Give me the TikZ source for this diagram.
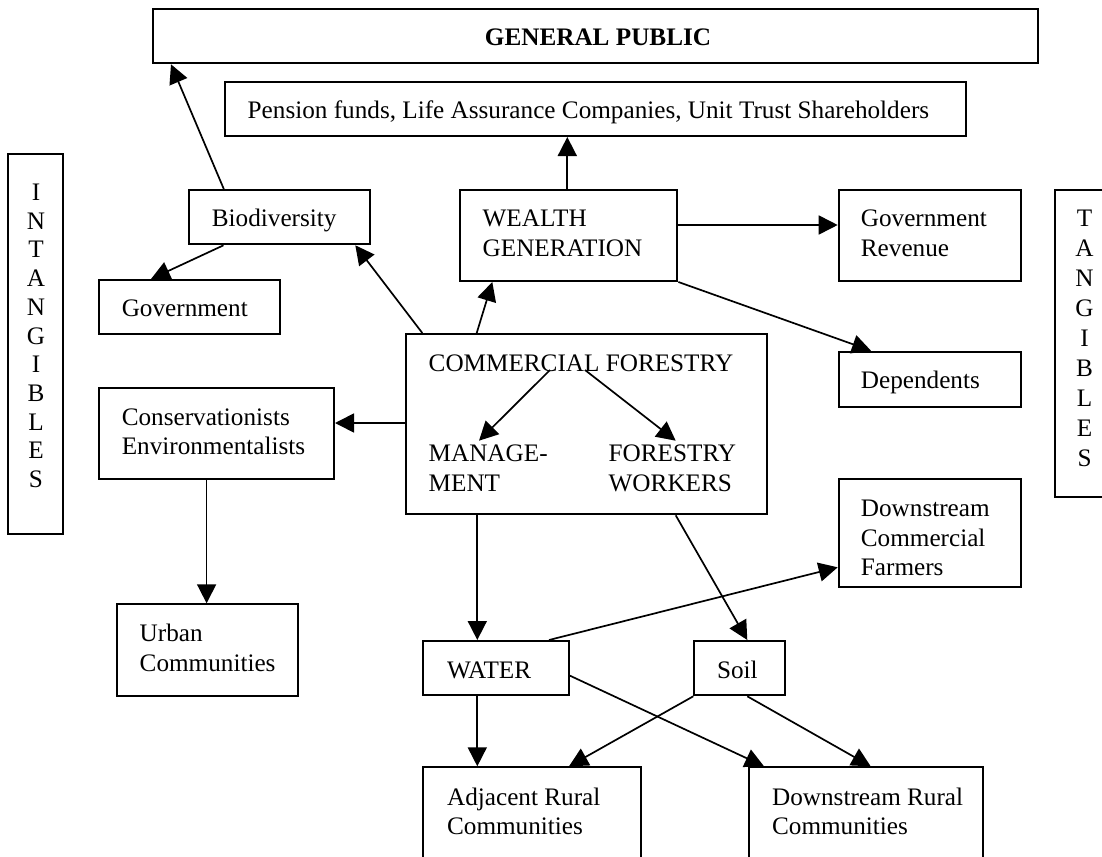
\documentclass[tikz,border=0pt]{standalone}
\usepackage{fontspec}
\setmainfont{Liberation Serif}
\usetikzlibrary{arrows.meta,fit,calc}
\newcommand\diafont{\fontsize{12.6}{14.75}\selectfont}
\begin{document}
\begin{tikzpicture}[x=0.5pt,y=-0.5pt,
  box/.style={draw, line width=1pt, inner sep=0pt},
  txt/.style={anchor=base west, inner sep=0pt, align=left, font=\diafont},
  arr/.style={line width=0.85pt, -{Triangle[length=9.5pt,width=9.5pt]}},
]
\useasboundingbox (0,0) rectangle (1102,856);
\clip (0,0) rectangle (1102,856);

% boxes
\node[box, fit={(152.6,9.3) (1038.3,63.3)}] (gp) {};
\node[box, fit={(225.2,81.7) (966,136)}] (pension) {};
\node[box, fit={(8.2,153.5) (63.4,534)}] (intang) {};
\node[box, fit={(1055,190) (1115,496.7)}] (tang) {};
\node[box, fit={(188.7,190) (370,244.3)}] (bio) {};
\node[box, fit={(459.5,190) (677.4,281)}] (wealth) {};
\node[box, fit={(838.7,190) (1020.7,281)}] (govrev) {};
\node[box, fit={(98.6,280) (279.5,334.3)}] (gov) {};
\node[box, fit={(405.7,334) (767.2,514.3)}] (cf) {};
\node[box, fit={(838.7,351.7) (1020.7,406.7)}] (dep) {};
\node[box, fit={(98.6,388.3) (334,479)}] (cons) {};
\node[box, fit={(838.7,479) (1020.7,587)}] (dcf) {};
\node[box, fit={(116.7,604.3) (298.3,695.7)}] (urban) {};
\node[box, fit={(423.3,641) (569,695.3)}] (water) {};
\node[box, fit={(694.3,641) (785.3,695.3)}] (soil) {};
\node[box, fit={(423.3,767.3) (640.7,875)}] (adj) {};
\node[box, fit={(749,767.3) (983.3,875)}] (dr) {};

% texts (anchor = baseline of the last line)
\node[txt, anchor=base, font=\diafont\bfseries] (tgp) at (598,45.5) {GENERAL PUBLIC};
\node[txt] (tpension) at (247.3,118.3) {Pension funds, Life Assurance Companies, Unit Trust Shareholders};
\node[txt, anchor=base, align=center, font=\fontsize{12.6}{14.35}\selectfont] (tintang) at (36,487.5) {I\\N\\T\\A\\N\\G\\I\\B\\L\\E\\S};
\node[txt, anchor=base, align=center, font=\fontsize{12.6}{15}\selectfont] (ttang) at (1084.5,466.7) {T\\A\\N\\G\\I\\B\\L\\E\\S};
\node[txt] (tbio) at (211.5,226.7) {Biodiversity};
\node[txt] (twealth) at (482.3,256.2) {WEALTH\\GENERATION};
\node[txt] (tgovrev) at (860.5,256.2) {Government\\Revenue};
\node[txt] (tgov) at (121.4,316.7) {Government};
\node[txt] (tcf) at (428.3,371.7) {COMMERCIAL FORESTRY};
\node[txt] (tmgmt) at (428.3,491.2) {MANAGE-\\MENT};
\node[txt] (tfw) at (608.3,491.2) {FORESTRY\\WORKERS};
\node[txt] (tdep) at (860.5,388.4) {Dependents};
\node[txt] (tcons) at (121.4,454.5) {Conservationists\\Environmentalists};
\node[txt] (tdcf) at (860.5,575.7) {Downstream\\Commercial\\Farmers};
\node[txt] (turban) at (139.3,671.2) {Urban\\Communities};
\node[txt] (twater) at (446.7,678.3) {WATER};
\node[txt] (tsoil) at (716.7,678.3) {Soil};
\node[txt] (tadj) at (446.7,834.5) {Adjacent Rural\\Communities};
\node[txt] (tdr) at (771.7,834.5) {Downstream Rural\\Communities};

% connectors
\draw[arr] ([xshift=18.05pt]bio.north west) -- ([xshift=9.7pt]gp.south west);
\draw[arr] ([xshift=17.9pt]bio.south west) -- ([xshift=26.7pt]gov.north west);
\draw[arr] ([xshift=8.8pt]cf.north west) -- ([xshift=-7.85pt]bio.south east);
\draw[arr] ([xshift=36pt]cf.north west) -- ([xshift=16.9pt]wealth.south west);
\coordinate (wp) at ([xshift=54.4pt]wealth.north west);
\draw[arr] (wp) -- (wp |- pension.south);
\coordinate (wg) at ([yshift=-18pt]wealth.north east);
\draw[arr] (wg) -- (wg -| govrev.west);
\draw[arr] (wealth.south east) -- ([xshift=16.65pt]dep.north west);
\coordinate (cc) at ([yshift=-45pt]cf.north west);
\draw[arr] (cc) -- (cc -| cons.east);
\coordinate (cu) at ([xshift=54.5pt]cons.south west);
\draw[arr] (cu) -- (cu |- urban.north);
\draw[arr] ([xshift=60.85pt,yshift=0.85pt]tcf.base west) -- ([xshift=25.35pt,yshift=25.25pt]tmgmt.base west);
\draw[arr] ([xshift=78.35pt,yshift=0.85pt]tcf.base west) -- ([xshift=33.7pt,yshift=25.25pt]tfw.base west);
\coordinate (cw) at ([xshift=36.3pt]cf.south west);
\draw[arr] (cw) -- (cw |- water.north);
\draw[arr] ([xshift=135.5pt]cf.south west) -- ([xshift=27pt]soil.north west);
\draw[arr] ([xshift=63.35pt]water.north west) -- ([yshift=-44.65pt]dcf.north west);
\coordinate (wa) at ([xshift=27.5pt]water.south west);
\draw[arr] (wa) -- (wa |- adj.north);
\draw[arr] ([yshift=-17.85pt]water.north east) -- ([xshift=8pt]dr.north west);
\draw[arr] (soil.south west) -- ([xshift=73.35pt]adj.north west);
\draw[arr] ([xshift=27pt]soil.south west) -- ([xshift=61.35pt]dr.north west);
\end{tikzpicture}
\end{document}
